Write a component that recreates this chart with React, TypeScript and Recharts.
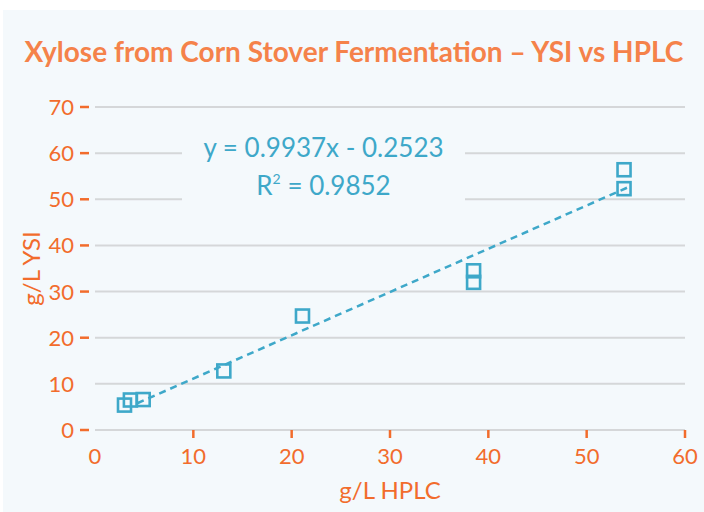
import React from "react";
import {
  CartesianGrid,
  Label,
  ReferenceLine,
  Scatter,
  ScatterChart,
  XAxis,
  YAxis,
} from "recharts";

// YSI vs HPLC xylose readings, hollow blue squares over a dashed fit line.

const HPLC = [3.0, 3.6, 4.9, 13.1, 21.1, 38.5, 38.5, 53.8, 53.8];
const YSI = [5.4, 6.5, 6.6, 12.8, 24.7, 34.5, 32.0, 56.4, 52.3];

const FIT_START = { x: 4.3, y: 5.8 };
const FIT_END = { x: 54.2, y: 52.6 };

const X_TICKS = [0, 10, 20, 30, 40, 50, 60];
const Y_TICKS = [0, 10, 20, 30, 40, 50, 60, 70];

const points = HPLC.map((x, i) => ({ x, y: YSI[i] }));

const BG = "#f4f9fc";
const ORANGE = "#f26c2c";
const TITLE = "#f5824a";
const BLUE = "#3ea8c9";
const GRID = "#d5d7d9";
const FONT = "Lato, 'Open Sans', sans-serif";

function Square(props: any) {
  const { cx, cy } = props;
  if (cx == null || cy == null) return null;
  const s = 13;
  return (
    <rect
      x={cx - s / 2}
      y={cy - s / 2}
      width={s}
      height={s}
      fill="none"
      stroke={BLUE}
      strokeWidth={2.6}
    />
  );
}

function YTick(props: any) {
  const { x, y, payload } = props;
  return (
    <g>
      {payload.value !== 10 && (
        <line x1={x - 7} x2={x + 2} y1={y} y2={y} stroke={ORANGE} strokeWidth={2.5} />
      )}
      <text
        x={x - 13}
        y={y}
        dy={8}
        textAnchor="end"
        fill={ORANGE}
        fontSize={22}
        fontFamily={FONT}
      >
        {payload.value}
      </text>
    </g>
  );
}

function XTick(props: any) {
  const { x, y, payload } = props;
  return (
    <g>
      {payload.value !== 0 && (
        <line x1={x} x2={x} y1={y - 8} y2={y} stroke={ORANGE} strokeWidth={2.5} />
      )}
      <text
        x={x}
        y={y}
        dy={26}
        textAnchor="middle"
        fill={ORANGE}
        fontSize={22}
        fontFamily={FONT}
      >
        {payload.value}
      </text>
    </g>
  );
}

export default function App() {
  return (
    <div
      style={{
        position: "fixed",
        left: 0,
        top: 0,
        width: 704,
        height: 512,
        background: "#fff",
        overflow: "hidden",
      }}
    >
      <div
        style={{
          position: "absolute",
          left: 3,
          top: 10,
          width: 701,
          height: 502,
          background: BG,
        }}
      />
      <div
        style={{
          position: "absolute",
          left: 4,
          top: 34,
          width: 700,
          textAlign: "center",
          color: TITLE,
          fontFamily: FONT,
          fontWeight: 700,
          fontSize: 28,
          whiteSpace: "nowrap",
        }}
      >
        Xylose from Corn Stover Fermentation – YSI vs HPLC
      </div>
      <div style={{ position: "absolute", left: 0, top: 0 }}>
        <ScatterChart
          width={704}
          height={512}
          margin={{ top: 107, right: 19, left: 35, bottom: 42 }}
        >
          <CartesianGrid vertical={false} stroke={GRID} strokeWidth={2} />
          <XAxis
            type="number"
            dataKey="x"
            domain={[0, 60]}
            ticks={X_TICKS}
            axisLine={false}
            tickLine={false}
            tick={<XTick />}
            height={40}
          >
            <Label
              value="g/L HPLC"
              position="center"
              dy={40}
              fill={ORANGE}
              fontSize={24}
              fontFamily={FONT}
            />
          </XAxis>
          <YAxis
            type="number"
            dataKey="y"
            domain={[0, 70]}
            ticks={Y_TICKS}
            axisLine={false}
            tickLine={false}
            tick={<YTick />}
            width={60}
          >
            <Label
              value="g/L YSI"
              position="center"
              angle={-90}
              dx={-34}
              fill={ORANGE}
              fontSize={24}
              fontFamily={FONT}
            />
          </YAxis>
          <ReferenceLine
            segment={[FIT_START, FIT_END]}
            stroke={BLUE}
            strokeWidth={2.5}
            strokeDasharray="7 5"
          />
          <Scatter data={points} shape={<Square />} isAnimationActive={false} />
        </ScatterChart>
      </div>
      <div
        style={{
          position: "absolute",
          left: 182,
          top: 128,
          width: 283,
          height: 76,
          background: BG,
          color: BLUE,
          fontFamily: FONT,
          fontSize: 26,
          textAlign: "center",
          lineHeight: "38px",
        }}
      >
        <div>y = 0.9937x - 0.2523</div>
        <div>
          R<sup style={{ fontSize: 14, verticalAlign: "top", lineHeight: "26px" }}>2</sup> = 0.9852
        </div>
      </div>
    </div>
  );
}
